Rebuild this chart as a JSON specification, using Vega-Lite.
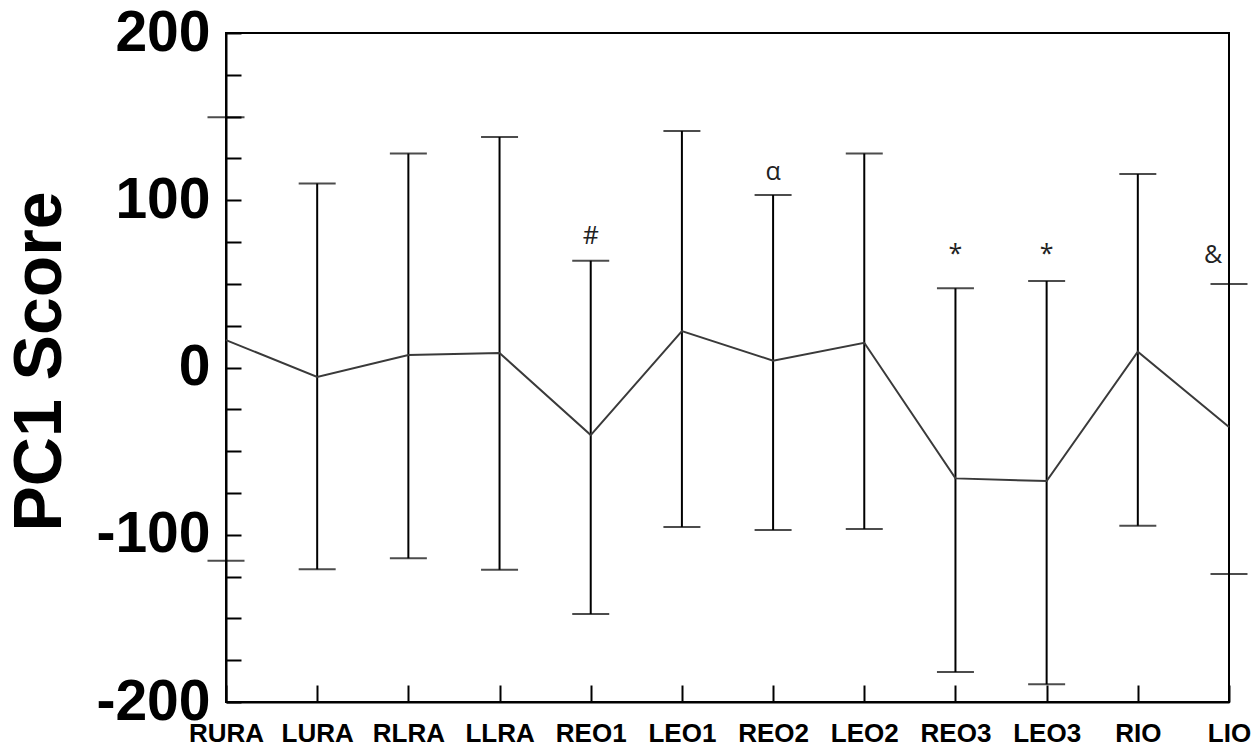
{
  "$schema": "https://vega.github.io/schema/vega-lite/v6.json",
  "width": 1003,
  "height": 669,
  "autosize": {"type": "none"},
  "padding": {"left": 226, "top": 33, "right": 31, "bottom": 47},
  "background": "white",
  "config": {
    "view": {"stroke": "black", "strokeWidth": 2},
    "font": "Liberation Sans"
  },
  "data": {
    "values": [
      {"region": "RURA", "mean": 16.4, "upper": 149.6, "lower": -115.5},
      {"region": "LURA", "mean": -5.7, "upper": 110, "lower": -120.7},
      {"region": "RLRA", "mean": 7.5, "upper": 128, "lower": -114},
      {"region": "LLRA", "mean": 8.7, "upper": 137.8, "lower": -121},
      {"region": "REO1", "mean": -40.4, "upper": 63.9, "lower": -147.4, "sig": "#", "sig_y": 78.5},
      {"region": "LEO1", "mean": 21.8, "upper": 141.4, "lower": -95.4},
      {"region": "REO2", "mean": 4.1, "upper": 103.1, "lower": -97.2, "sig": "α", "sig_y": 117},
      {"region": "LEO2", "mean": 14.8, "upper": 128, "lower": -96.6},
      {"region": "REO3", "mean": -66.3, "upper": 47.4, "lower": -182, "sig": "*", "sig_y": 68},
      {"region": "LEO3", "mean": -67.9, "upper": 51.7, "lower": -189.4, "sig": "*", "sig_y": 68},
      {"region": "RIO", "mean": 9.4, "upper": 115.7, "lower": -94.6},
      {"region": "LIO", "mean": -35.6, "upper": 50, "lower": -123.5, "sig2": "&", "sig_y": 67}
    ]
  },
  "encoding": {
    "x": {
      "field": "region",
      "type": "ordinal",
      "sort": null,
      "scale": {"type": "point", "padding": 0},
      "axis": {
        "title": null,
        "labelAngle": 0,
        "labelFont": "Liberation Sans",
        "labelFontSize": 26,
        "labelFontWeight": "bold",
        "labelColor": "black",
        "labelPadding": 35,
        "labelOverlap": false,
        "labelBound": false,
        "tickSize": -17,
        "tickWidth": 2,
        "tickColor": "black",
        "domainColor": "black",
        "domainWidth": 2
      }
    }
  },
  "layer": [
    {
      "mark": {"type": "rule", "color": "black", "strokeWidth": 2},
      "encoding": {
        "y": {
          "field": "lower",
          "type": "quantitative",
          "scale": {"domain": [-200, 200], "nice": false, "zero": false},
          "axis": {
            "title": "PC1 Score",
            "titleFont": "Liberation Sans",
            "titleFontSize": 68,
            "titleFontWeight": "bold",
            "titleColor": "black",
            "titleX": -186,
            "titleY": 328,
            "titleAngle": 270,
            "titleAlign": "center",
            "titleBaseline": "middle",
            "values": [-200, -175, -150, -125, -100, -75, -50, -25, 0, 25, 50, 75, 100, 125, 150, 175, 200],
            "labelExpr": "datum.value % 100 === 0 ? '' + datum.value : ''",
            "labelFont": "Liberation Sans",
            "labelFontSize": 57,
            "labelFontWeight": "bold",
            "labelColor": "black",
            "labelPadding": 31,
            "labelOverlap": false,
            "labelBound": false,
            "labelFlush": false,
            "tickSize": -15,
            "tickWidth": 2,
            "tickColor": "black",
            "domainColor": "black",
            "domainWidth": 2,
            "grid": false
          }
        },
        "y2": {"field": "upper"}
      }
    },
    {
      "mark": {"type": "tick", "color": "black", "size": 37, "thickness": 2},
      "encoding": {"y": {"field": "upper", "type": "quantitative"}}
    },
    {
      "mark": {"type": "tick", "color": "black", "size": 37, "thickness": 2},
      "encoding": {"y": {"field": "lower", "type": "quantitative"}}
    },
    {
      "mark": {"type": "line", "color": "#3a3a3a", "strokeWidth": 2},
      "encoding": {"y": {"field": "mean", "type": "quantitative"}}
    },
    {
      "transform": [{"filter": "datum.sig != null"}],
      "mark": {"type": "text", "font": "Open Sans", "fontSize": 25, "color": "#222", "baseline": "middle", "align": "center"},
      "encoding": {
        "y": {"field": "sig_y", "type": "quantitative"},
        "text": {"field": "sig"}
      }
    },
    {
      "transform": [{"filter": "datum.sig2 != null"}],
      "mark": {"type": "text", "font": "Open Sans", "fontSize": 25, "color": "#222", "baseline": "middle", "align": "center", "dx": -16},
      "encoding": {
        "y": {"field": "sig_y", "type": "quantitative"},
        "text": {"field": "sig2"}
      }
    }
  ]
}
